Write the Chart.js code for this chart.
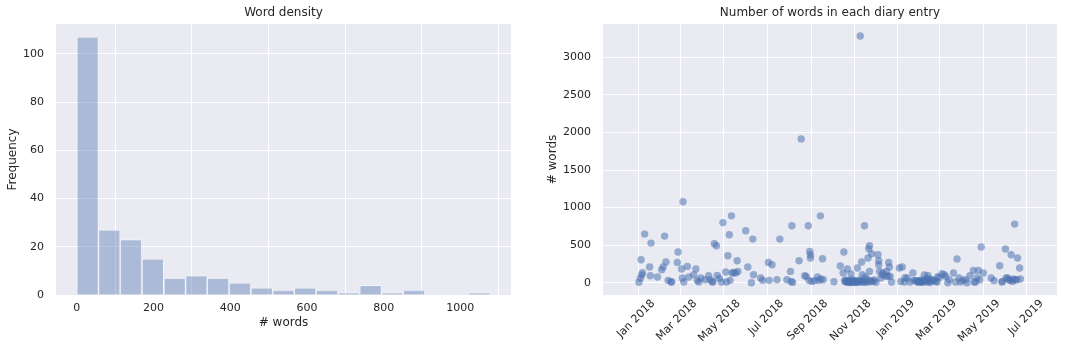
<!DOCTYPE html>
<html><head><meta charset="utf-8">
<script src="https://cdn.jsdelivr.net/npm/chart.js@4.4.1/dist/chart.umd.min.js"></script>
<style>
html,body{margin:0;padding:0;background:#fff;width:1066px;height:357px;overflow:hidden}
#c1{position:absolute;left:0;top:0}
#c2{position:absolute;left:533px;top:0}
</style></head><body>
<canvas id="c1" width="533" height="357"></canvas>
<canvas id="c2" width="533" height="357"></canvas>
<script>
// ---- Histogram data ----
const histBinEdges = [0, 57, 113, 170, 227, 284, 340, 397, 454, 511, 567, 624, 681, 738, 794, 851, 908, 965, 1021, 1078];
const histCounts   = [107, 27, 23, 15, 7, 8, 7, 5, 3, 2, 3, 2, 1, 4, 1, 2, 0, 0, 1];
const histXTicks   = [0, 200, 400, 600, 800, 1000];
const histYTicks   = [0, 20, 40, 60, 80, 100];

// ---- Scatter data ----
const entryDates = [
'2018-01-02','2018-01-04','2018-01-05','2018-01-06','2018-01-07','2018-01-10','2018-01-17','2018-01-18','2018-01-19','2018-01-28',
'2018-02-03','2018-02-05','2018-02-07','2018-02-09','2018-02-12','2018-02-16','2018-02-17','2018-02-25','2018-02-26',
'2018-03-03','2018-03-04','2018-03-05','2018-03-06','2018-03-11','2018-03-13','2018-03-20','2018-03-23','2018-03-25','2018-03-27','2018-03-30',
'2018-04-05','2018-04-10','2018-04-12','2018-04-15','2018-04-16','2018-04-18','2018-04-21','2018-04-22','2018-04-25','2018-04-28','2018-04-30',
'2018-05-04','2018-05-05','2018-05-07','2018-05-09','2018-05-10','2018-05-12','2018-05-13','2018-05-15','2018-05-18','2018-05-20','2018-05-21',
'2018-06-01','2018-06-04','2018-06-09','2018-06-11','2018-06-12','2018-06-22','2018-06-25',
'2018-07-03','2018-07-04','2018-07-08','2018-07-15','2018-07-19','2018-07-29',
'2018-08-03','2018-08-04','2018-08-05','2018-08-06','2018-08-15','2018-08-18','2018-08-23','2018-08-25','2018-08-28','2018-08-29','2018-08-30','2018-08-31','2018-08-31',
'2018-09-02','2018-09-06','2018-09-10','2018-09-12','2018-09-14','2018-09-15','2018-09-17','2018-09-18',
'2018-10-03','2018-10-12','2018-10-16','2018-10-17','2018-10-18','2018-10-19','2018-10-20','2018-10-21','2018-10-22','2018-10-22','2018-10-23','2018-10-24','2018-10-25','2018-10-26','2018-10-27','2018-10-27','2018-10-28','2018-10-29','2018-10-30','2018-10-31',
'2018-11-01','2018-11-02','2018-11-03','2018-11-04','2018-11-05','2018-11-06','2018-11-07','2018-11-08','2018-11-09','2018-11-10','2018-11-11','2018-11-12','2018-11-13','2018-11-14','2018-11-15','2018-11-16','2018-11-17','2018-11-18','2018-11-19','2018-11-20','2018-11-21','2018-11-22','2018-11-22','2018-11-23','2018-11-24','2018-11-25','2018-11-27','2018-11-29',
'2018-12-01','2018-12-04','2018-12-05','2018-12-05','2018-12-06','2018-12-08','2018-12-10','2018-12-11','2018-12-15','2018-12-16','2018-12-18','2018-12-19','2018-12-20','2018-12-21','2018-12-23',
'2019-01-03','2019-01-05','2019-01-07','2019-01-10','2019-01-11','2019-01-14','2019-01-18','2019-01-22','2019-01-23','2019-01-26','2019-01-28','2019-01-29','2019-01-30','2019-01-31',
'2019-02-01','2019-02-02','2019-02-03','2019-02-04','2019-02-05','2019-02-06','2019-02-07','2019-02-08','2019-02-09','2019-02-10','2019-02-11','2019-02-12','2019-02-13','2019-02-14','2019-02-15','2019-02-17','2019-02-19','2019-02-20','2019-02-23','2019-02-25','2019-02-26','2019-02-28',
'2019-03-04','2019-03-07','2019-03-09','2019-03-12','2019-03-14','2019-03-20','2019-03-23','2019-03-25','2019-03-28','2019-03-30',
'2019-04-02','2019-04-06','2019-04-08','2019-04-12','2019-04-17','2019-04-18','2019-04-20','2019-04-22','2019-04-24','2019-04-26','2019-04-28',
'2019-05-01','2019-05-12','2019-05-16','2019-05-24','2019-05-27','2019-05-28',
'2019-06-01','2019-06-02','2019-06-04','2019-06-06','2019-06-08','2019-06-09','2019-06-11','2019-06-12','2019-06-14','2019-06-15','2019-06-17','2019-06-18','2019-06-21','2019-06-22'
];
const entryWords = [
5,58,305,103,133,647,208,93,527,75,
173,208,620,275,31,13,9,270,408,
182,62,1078,9,217,75,106,182,31,9,62,
40,93,40,9,13,518,492,97,58,9,800,
142,9,359,638,31,890,128,137,128,292,150,
691,208,0,580,106,62,31,
270,31,239,40,580,40,
150,17,758,4,292,1914,93,84,758,31,416,372,328,
17,27,75,31,890,49,319,40,
12,222,130,408,20,35,8,15,182,25,5,12,30,10,116,3,18,40,7,22,
14,2,28,11,195,6,19,33,3284,9,275,106,24,4,758,75,15,45,8,328,452,492,150,30,12,385,20,38,
6,372,292,239,150,62,106,128,84,150,89,270,208,84,9,
195,17,208,9,66,62,9,130,31,27,12,25,5,18,
20,9,35,10,13,15,102,28,40,8,45,97,18,53,3,22,40,30,17,10,80,70,
120,106,84,0,40,128,9,315,62,9,
31,40,0,92,162,9,9,62,162,40,475,
128,62,27,226,9,17,
448,62,62,40,31,372,17,49,780,40,40,328,195,49
];
const dateTickDates  = ['2018-01-01','2018-03-01','2018-05-01','2018-07-01','2018-09-01','2018-11-01','2019-01-01','2019-03-01','2019-05-01','2019-07-01'];
const dateTickLabels = ['Jan 2018','Mar 2018','May 2018','Jul 2018','Sep 2018','Nov 2018','Jan 2019','Mar 2019','May 2019','Jul 2019'];
const wordYTicks = [0, 500, 1000, 1500, 2000, 2500, 3000];

// ---- helpers ----
const EPOCH = Date.parse('2018-01-01T00:00:00Z');
const toDay = s => (Date.parse(s + 'T00:00:00Z') - EPOCH) / 86400000;
const dateTickDays = dateTickDates.map(toDay);
const plainNum = v => String(v);

Chart.defaults.font.family = "'DejaVu Sans', sans-serif";
Chart.defaults.color = '#262626';

const bgPlugin = {
  id: 'bg',
  beforeDraw(chart) {
    const {ctx, chartArea: a} = chart;
    ctx.save();
    ctx.fillStyle = '#EAEAF2';
    ctx.fillRect(a.left, a.top, a.right - a.left, a.bottom - a.top);
    ctx.restore();
  }
};

const gridOpts = {color: '#ffffff', lineWidth: 1, drawTicks: false};
const titleOpts = text => ({display: true, text, fullSize: false, color: '#262626',
  font: {size: 12, weight: 'normal', lineHeight: '14px'}, padding: {top: 6, bottom: 4}});

// ---- Histogram ----
const histData = histCounts.map((c, i) => ({x: (histBinEdges[i] + histBinEdges[i + 1]) / 2, y: c}));
new Chart(document.getElementById('c1'), {
  type: 'bar',
  data: {datasets: [{
    data: histData,
    backgroundColor: 'rgba(76,114,176,0.4)',
    borderColor: 'rgba(255,255,255,0.45)',
    borderWidth: 1,
    barPercentage: 1,
    categoryPercentage: 1
  }]},
  plugins: [bgPlugin],
  options: {
    responsive: false, animation: false,
    layout: {padding: {left: 0, right: 22, top: 0, bottom: 0}},
    plugins: {legend: {display: false}, tooltip: {enabled: false}, title: titleOpts('Word density')},
    scales: {
      x: {
        type: 'linear', min: -54, max: 1132, offset: false,
        grid: gridOpts, border: {display: false},
        afterBuildTicks: s => { s.ticks = histXTicks.map(v => ({value: v})); },
        afterFit: s => { s.height = 62; },
        ticks: {autoSkip: false, padding: 7, maxRotation: 0, font: {size: 11}, callback: plainNum},
        title: {display: true, text: '# words', font: {size: 12, lineHeight: '14px'}, padding: {top: 0, bottom: 27}}
      },
      y: {
        type: 'linear', min: 0, max: 112.35,
        grid: gridOpts, border: {display: false},
        afterBuildTicks: s => { s.ticks = histYTicks.map(v => ({value: v})); },
        afterFit: s => { s.width = 56; },
        ticks: {padding: 12, font: {size: 11}, callback: plainNum},
        title: {display: true, text: 'Frequency', font: {size: 12, lineHeight: '14px'}, padding: {top: 6, bottom: 0}}
      }
    }
  }
});

// ---- Scatter ----
const scatterData = entryDates.map((d, i) => ({x: toDay(d), y: entryWords[i]}));
new Chart(document.getElementById('c2'), {
  type: 'scatter',
  data: {datasets: [{
    data: scatterData,
    backgroundColor: 'rgba(76,114,176,0.55)',
    borderWidth: 0,
    pointRadius: 3.7
  }]},
  plugins: [bgPlugin],
  options: {
    responsive: false, animation: false,
    layout: {padding: {left: 0, right: 9, top: 0, bottom: 0}},
    plugins: {legend: {display: false}, tooltip: {enabled: false}, title: titleOpts('Number of words in each diary entry')},
    scales: {
      x: {
        type: 'linear', min: -49.5, max: 588.5,
        grid: gridOpts, border: {display: false},
        afterBuildTicks: s => { s.ticks = dateTickDays.map(v => ({value: v})); },
        afterFit: s => { s.height = 62; },
        ticks: {autoSkip: false, padding: 2, minRotation: 45, maxRotation: 45, labelOffset: 15, font: {size: 11},
          callback: v => dateTickLabels[dateTickDays.indexOf(v)]}
      },
      y: {
        type: 'linear', min: -164, max: 3444,
        grid: gridOpts, border: {display: false},
        afterBuildTicks: s => { s.ticks = wordYTicks.map(v => ({value: v})); },
        afterFit: s => { s.width = 70; },
        ticks: {padding: 12, font: {size: 11}, callback: plainNum},
        title: {display: true, text: '# words', font: {size: 12, lineHeight: '14px'}, padding: {top: 13, bottom: 0}}
      }
    }
  }
});
</script>
</body></html>
